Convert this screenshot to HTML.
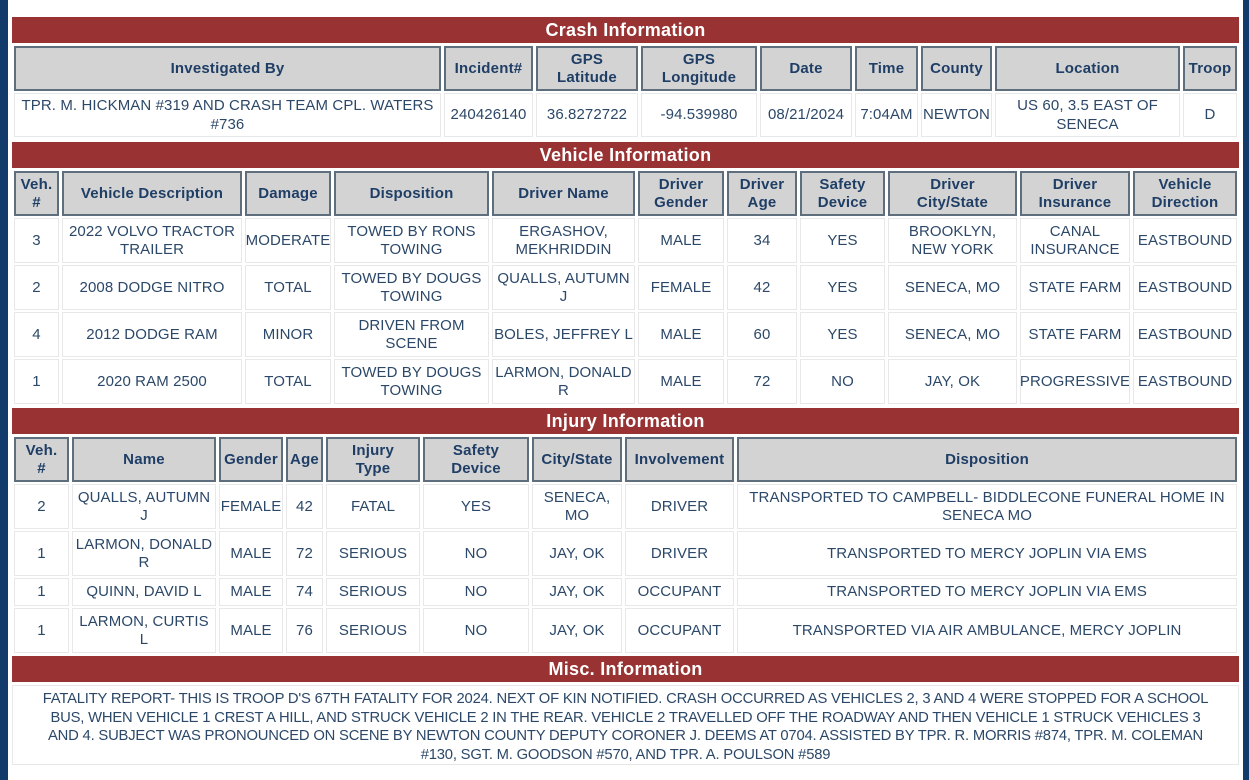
<!DOCTYPE html>
<html><head><meta charset="utf-8"><style>
body{margin:0;width:1249px;height:780px;background:#fff;position:relative;overflow:hidden;font-family:"Liberation Sans",sans-serif;}
.lb{position:absolute;left:0;top:0;width:8px;height:780px;background:#123a6b}
.rb{position:absolute;right:0;top:0;width:6px;height:780px;background:#123a6b}
.bar{position:absolute;left:12px;width:1227px;height:26px;background:#993333;color:#fff;font-weight:bold;font-size:18px;text-align:center;line-height:27px;letter-spacing:.3px}
.r{position:absolute;left:0;width:1249px}
.r>div{position:absolute;top:0;height:100%;box-sizing:border-box;display:flex;align-items:center;justify-content:center;text-align:center;font-size:15px;line-height:18.5px;overflow:hidden;padding-top:1px}
.h>div{background:#d3d3d3;border:2px solid #5f6e7d;color:#1f3e66;font-weight:bold;letter-spacing:.2px}
.d>div{border:1px solid #e8e8e8;color:#2c4868;letter-spacing:.1px;padding:1px 1px 0}
.misc{position:absolute;left:12px;top:685px;width:1227px;height:80px;border:1px solid #e8e8e8;box-sizing:border-box;text-align:center;font-size:14.8px;letter-spacing:-0.2px;color:#2c4868;line-height:18.5px;padding:4px 4px}
</style></head><body>
<div class="lb"></div><div class="rb"></div>
<div class="bar" style="top:17px">Crash Information</div>
<div class="r h" style="top:46px;height:45px">
<div style="left:14px;width:427px">Investigated By</div><div style="left:444px;width:89px">Incident#</div><div style="left:536px;width:102px">GPS<br>Latitude</div><div style="left:641px;width:116px">GPS<br>Longitude</div><div style="left:760px;width:92px">Date</div><div style="left:855px;width:63px">Time</div><div style="left:921px;width:71px">County</div><div style="left:995px;width:185px">Location</div><div style="left:1183px;width:54px">Troop</div></div>
<div class="r d" style="top:93px;height:44px">
<div style="left:14px;width:427px">TPR. M. HICKMAN #319 AND CRASH TEAM CPL. WATERS #736</div><div style="left:444px;width:89px">240426140</div><div style="left:536px;width:102px">36.8272722</div><div style="left:641px;width:116px">-94.539980</div><div style="left:760px;width:92px">08/21/2024</div><div style="left:855px;width:63px">7:04AM</div><div style="left:921px;width:71px">NEWTON</div><div style="left:995px;width:185px">US 60, 3.5 EAST OF SENECA</div><div style="left:1183px;width:54px">D</div></div>

<div class="bar" style="top:142px">Vehicle Information</div>
<div class="r h" style="top:171px;height:45px">
<div style="left:14px;width:45px">Veh.<br>#</div><div style="left:62px;width:180px">Vehicle Description</div><div style="left:245px;width:86px">Damage</div><div style="left:334px;width:155px">Disposition</div><div style="left:492px;width:143px">Driver Name</div><div style="left:638px;width:86px">Driver<br>Gender</div><div style="left:727px;width:70px">Driver<br>Age</div><div style="left:800px;width:85px">Safety<br>Device</div><div style="left:888px;width:129px">Driver<br>City/State</div><div style="left:1020px;width:110px">Driver<br>Insurance</div><div style="left:1133px;width:104px">Vehicle<br>Direction</div></div>
<div class="r d" style="top:218px;height:45px">
<div style="left:14px;width:45px">3</div><div style="left:62px;width:180px">2022 VOLVO TRACTOR TRAILER</div><div style="left:245px;width:86px">MODERATE</div><div style="left:334px;width:155px">TOWED BY RONS TOWING</div><div style="left:492px;width:143px">ERGASHOV, MEKHRIDDIN</div><div style="left:638px;width:86px">MALE</div><div style="left:727px;width:70px">34</div><div style="left:800px;width:85px">YES</div><div style="left:888px;width:129px">BROOKLYN, NEW YORK</div><div style="left:1020px;width:110px">CANAL INSURANCE</div><div style="left:1133px;width:104px">EASTBOUND</div></div>
<div class="r d" style="top:265px;height:45px">
<div style="left:14px;width:45px">2</div><div style="left:62px;width:180px">2008 DODGE NITRO</div><div style="left:245px;width:86px">TOTAL</div><div style="left:334px;width:155px">TOWED BY DOUGS TOWING</div><div style="left:492px;width:143px">QUALLS, AUTUMN J</div><div style="left:638px;width:86px">FEMALE</div><div style="left:727px;width:70px">42</div><div style="left:800px;width:85px">YES</div><div style="left:888px;width:129px">SENECA, MO</div><div style="left:1020px;width:110px">STATE FARM</div><div style="left:1133px;width:104px">EASTBOUND</div></div>
<div class="r d" style="top:312px;height:45px">
<div style="left:14px;width:45px">4</div><div style="left:62px;width:180px">2012 DODGE RAM</div><div style="left:245px;width:86px">MINOR</div><div style="left:334px;width:155px">DRIVEN FROM SCENE</div><div style="left:492px;width:143px">BOLES, JEFFREY L</div><div style="left:638px;width:86px">MALE</div><div style="left:727px;width:70px">60</div><div style="left:800px;width:85px">YES</div><div style="left:888px;width:129px">SENECA, MO</div><div style="left:1020px;width:110px">STATE FARM</div><div style="left:1133px;width:104px">EASTBOUND</div></div>
<div class="r d" style="top:359px;height:45px">
<div style="left:14px;width:45px">1</div><div style="left:62px;width:180px">2020 RAM 2500</div><div style="left:245px;width:86px">TOTAL</div><div style="left:334px;width:155px">TOWED BY DOUGS TOWING</div><div style="left:492px;width:143px">LARMON, DONALD<br>R</div><div style="left:638px;width:86px">MALE</div><div style="left:727px;width:70px">72</div><div style="left:800px;width:85px">NO</div><div style="left:888px;width:129px">JAY, OK</div><div style="left:1020px;width:110px">PROGRESSIVE</div><div style="left:1133px;width:104px">EASTBOUND</div></div>

<div class="bar" style="top:408px">Injury Information</div>
<div class="r h" style="top:437px;height:45px">
<div style="left:14px;width:55px">Veh.<br>#</div><div style="left:72px;width:144px">Name</div><div style="left:219px;width:64px">Gender</div><div style="left:286px;width:37px">Age</div><div style="left:326px;width:94px">Injury<br>Type</div><div style="left:423px;width:106px">Safety<br>Device</div><div style="left:532px;width:90px">City/State</div><div style="left:625px;width:109px">Involvement</div><div style="left:737px;width:500px">Disposition</div></div>
<div class="r d" style="top:484px;height:45px">
<div style="left:14px;width:55px">2</div><div style="left:72px;width:144px">QUALLS, AUTUMN J</div><div style="left:219px;width:64px">FEMALE</div><div style="left:286px;width:37px">42</div><div style="left:326px;width:94px">FATAL</div><div style="left:423px;width:106px">YES</div><div style="left:532px;width:90px">SENECA, MO</div><div style="left:625px;width:109px">DRIVER</div><div style="left:737px;width:500px">TRANSPORTED TO CAMPBELL- BIDDLECONE FUNERAL HOME IN<br>SENECA MO</div></div>
<div class="r d" style="top:531px;height:45px">
<div style="left:14px;width:55px">1</div><div style="left:72px;width:144px">LARMON, DONALD<br>R</div><div style="left:219px;width:64px">MALE</div><div style="left:286px;width:37px">72</div><div style="left:326px;width:94px">SERIOUS</div><div style="left:423px;width:106px">NO</div><div style="left:532px;width:90px">JAY, OK</div><div style="left:625px;width:109px">DRIVER</div><div style="left:737px;width:500px">TRANSPORTED TO MERCY JOPLIN VIA EMS</div></div>
<div class="r d" style="top:578px;height:28px">
<div style="left:14px;width:55px">1</div><div style="left:72px;width:144px">QUINN, DAVID L</div><div style="left:219px;width:64px">MALE</div><div style="left:286px;width:37px">74</div><div style="left:326px;width:94px">SERIOUS</div><div style="left:423px;width:106px">NO</div><div style="left:532px;width:90px">JAY, OK</div><div style="left:625px;width:109px">OCCUPANT</div><div style="left:737px;width:500px">TRANSPORTED TO MERCY JOPLIN VIA EMS</div></div>
<div class="r d" style="top:608px;height:45px">
<div style="left:14px;width:55px">1</div><div style="left:72px;width:144px">LARMON, CURTIS<br>L</div><div style="left:219px;width:64px">MALE</div><div style="left:286px;width:37px">76</div><div style="left:326px;width:94px">SERIOUS</div><div style="left:423px;width:106px">NO</div><div style="left:532px;width:90px">JAY, OK</div><div style="left:625px;width:109px">OCCUPANT</div><div style="left:737px;width:500px">TRANSPORTED VIA AIR AMBULANCE, MERCY JOPLIN</div></div>

<div class="bar" style="top:656px">Misc. Information</div>
<div class="misc">FATALITY REPORT- THIS IS TROOP D'S 67TH FATALITY FOR 2024. NEXT OF KIN NOTIFIED. CRASH OCCURRED AS VEHICLES 2, 3 AND 4 WERE STOPPED FOR A SCHOOL<br>BUS, WHEN VEHICLE 1 CREST A HILL, AND STRUCK VEHICLE 2 IN THE REAR. VEHICLE 2 TRAVELLED OFF THE ROADWAY AND THEN VEHICLE 1 STRUCK VEHICLES 3<br>AND 4. SUBJECT WAS PRONOUNCED ON SCENE BY NEWTON COUNTY DEPUTY CORONER J. DEEMS AT 0704. ASSISTED BY TPR. R. MORRIS #874, TPR. M. COLEMAN<br>#130, SGT. M. GOODSON #570, AND TPR. A. POULSON #589</div>
</body></html>
